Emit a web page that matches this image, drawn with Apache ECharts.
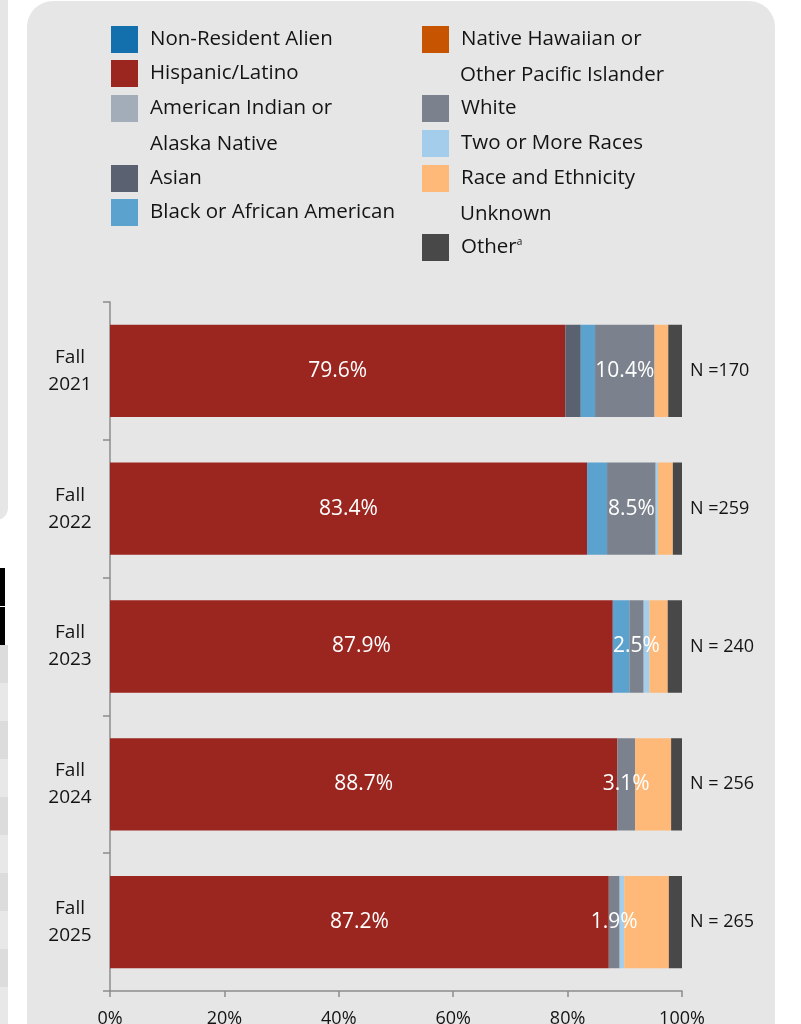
<!DOCTYPE html>
<html>
<head>
<meta charset="utf-8">
<script src="https://cdn.jsdelivr.net/npm/echarts@6/dist/echarts.min.js"></script>
<style>
html,body{margin:0;padding:0;background:#fff;}
#chart{width:801px;height:1024px;}
</style>
</head>
<body>
<div id="chart"></div>
<script>
// ---- Data ----
const categories = ['Fall\n2021', 'Fall\n2022', 'Fall\n2023', 'Fall\n2024', 'Fall\n2025'];
const nLabels = ['N =170', 'N =259', 'N = 240', 'N = 256', 'N = 265'];
const seriesNames = ['Non-Resident Alien', 'Hispanic/Latino', 'American Indian or Alaska Native', 'Asian',
  'Black or African American', 'Native Hawaiian or Other Pacific Islander', 'White', 'Two or More Races',
  'Race and Ethnicity Unknown', 'Other'];
const nonResident = [0, 0, 0, 0, 0];
const hispanic = [79.6, 83.4, 87.9, 88.7, 87.2];
const americanIndian = [0, 0, 0, 0, 0];
const asian = [2.7, 0, 0, 0, 0];
const black = [2.5, 3.5, 2.9, 0, 0];
const nativeHawaiian = [0, 0, 0, 0, 0];
const white = [10.4, 8.5, 2.5, 3.1, 1.9];
const twoOrMore = [0, 0.4, 1.0, 0, 0.8];
const unknown = [2.4, 2.6, 3.2, 6.3, 7.8];
const other = [2.4, 1.6, 2.5, 1.9, 2.3];
const xTicks = [0, 20, 40, 60, 80, 100];

const colors = ['#1470ad', '#9b2620', '#a3acb9', '#5a6170', '#5ba2cf', '#c75400', '#7c828d', '#a3cdea', '#feb978', '#484848'];
const values = [nonResident, hispanic, americanIndian, asian, black, nativeHawaiian, white, twoOrMore, unknown, other];
const labeled = {'Hispanic/Latino': true, 'White': true};

const FONT = '"Open Sans", Carlito, Lato, sans-serif';
const TXT = '#141414';

// legend layout (style only)
const legendPos = [
  [111, 26, 'Non-Resident Alien'],
  [111, 60, 'Hispanic/Latino'],
  [111, 95, 'American Indian or'],
  [111, 165, 'Asian'],
  [111, 199, 'Black or African American'],
  [422, 26, 'Native Hawaiian or'],
  [422, 95, 'White'],
  [422, 130, 'Two or More Races'],
  [422, 165, 'Race and Ethnicity'],
  [422, 234, 'Other{sup|a}']
];
const contLines = [
  [150, 148, 'Alaska Native'],
  [460, 79, 'Other Pacific Islander'],
  [460, 218, 'Unknown']
];

const legends = seriesNames.map((n, i) => ({
  data: [n],
  left: legendPos[i][0],
  top: legendPos[i][1],
  orient: 'vertical',
  padding: 0,
  itemWidth: 27,
  itemHeight: 27,
  itemGap: 0,
  selectedMode: false,
  icon: 'rect',
  formatter: () => legendPos[i][2],
  textStyle: {
    fontFamily: FONT, fontSize: 20.5, color: TXT, padding: [0, 0, 0, 7],
    rich: { sup: { fontSize: 10, verticalAlign: 'top', padding: [0, 0, 10, 0], color: TXT, fontFamily: FONT } }
  }
}));

const series = seriesNames.map((n, i) => {
  const s = {
    name: n,
    type: 'bar',
    stack: 'total',
    barWidth: '67%',
    data: values[i],
    itemStyle: { color: colors[i] },
    label: { show: false }
  };
  if (labeled[n]) {
    s.label = {
      show: true, position: 'inside', color: '#ffffff', fontFamily: FONT, fontSize: 21,
      formatter: p => p.value.toFixed(1) + '%'
    };
  }
  if (n === 'Other') {
    s.label = {
      show: true, position: 'right', distance: 8, color: TXT, fontFamily: FONT, fontSize: 18,
      formatter: p => nLabels[p.dataIndex]
    };
  }
  return s;
});

const graphics = [
  { type: 'rect', z: -10, shape: { x: 27, y: 1, width: 748, height: 1100, r: 26 }, style: { fill: '#e6e6e6' } },
  { type: 'rect', z: -10, shape: { x: -30, y: -30, width: 38, height: 550, r: 12 }, style: { fill: '#e6e6e6' } },
  { type: 'rect', z: -10, shape: { x: 0, y: 568, width: 5, height: 38 }, style: { fill: '#000' } },
  { type: 'rect', z: -10, shape: { x: 0, y: 607, width: 5, height: 38 }, style: { fill: '#000' } }
];
for (let k = 0; k < 10; k++) {
  graphics.push({ type: 'rect', z: -10, shape: { x: 0, y: 645 + k * 38, width: 8, height: 38 },
    style: { fill: k % 2 ? '#e8e8e8' : '#dcdcdc' } });
}
contLines.forEach(c => graphics.push({
  type: 'text', left: c[0], top: c[1] - 14,
  style: { text: c[2], fontFamily: FONT, fontSize: 20.5, fill: TXT }
}));

const chart = echarts.init(document.getElementById('chart'), null, { renderer: 'canvas' });
chart.setOption({
  animation: false,
  backgroundColor: '#ffffff',
  textStyle: { fontFamily: FONT },
  graphic: graphics,
  legend: legends,
  grid: { left: 110, right: 119, top: 302, bottom: 33, containLabel: false, outerBoundsMode: 'none' },
  xAxis: {
    type: 'value', min: xTicks[0], max: xTicks[xTicks.length - 1], interval: 20,
    axisLabel: { formatter: '{value}%', fontFamily: FONT, fontSize: 18, color: TXT, margin: 19 },
    axisLine: { show: true, lineStyle: { color: '#8c8c8c', width: 1.5 } },
    axisTick: { show: true, length: 6, lineStyle: { color: '#8c8c8c', width: 1.5 } },
    splitLine: { show: false }
  },
  yAxis: {
    type: 'category', inverse: true, data: categories,
    axisLabel: { align: 'center', margin: 40, fontFamily: FONT, fontSize: 19, lineHeight: 27, color: TXT },
    axisLine: { show: true, lineStyle: { color: '#8c8c8c', width: 1.5 } },
    axisTick: { show: true, length: 7, lineStyle: { color: '#8c8c8c', width: 1.5 } }
  },
  series: series
});
</script>
</body>
</html>
